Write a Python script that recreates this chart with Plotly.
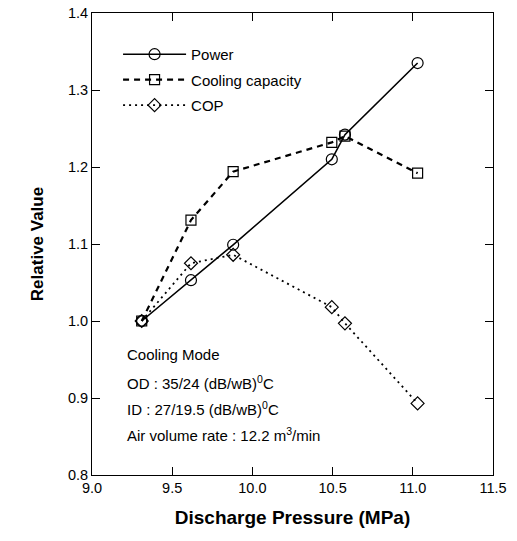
import plotly.graph_objects as go

pressure = [9.31, 9.617, 9.88, 10.495, 10.577, 11.03]
power = [1.0, 1.053, 1.099, 1.21, 1.242, 1.335]
cooling = [1.0, 1.131, 1.194, 1.232, 1.240, 1.192]
cop = [1.0, 1.075, 1.086, 1.018, 0.997, 0.893]

FONT = "Liberation Sans, Arial, sans-serif"

fig = go.Figure()
fig.add_trace(go.Scatter(x=pressure, y=power, name="Power", mode="lines+markers", legendgroup="a",
                         line=dict(color="black", width=1.6),
                         marker=dict(symbol="circle-open", size=11, color="black", line=dict(width=1.2))))
fig.add_trace(go.Scatter(x=pressure, y=cooling, name="Cooling capacity", mode="lines+markers", legendgroup="b",
                         line=dict(color="black", width=2.2, dash="6px,5px"),
                         marker=dict(symbol="square-open", size=10, color="black", line=dict(width=1.2))))
fig.add_trace(go.Scatter(x=pressure, y=cop, name="COP", mode="lines+markers", legendgroup="c",
                         line=dict(color="black", width=1.8, dash="2px,4px"),
                         marker=dict(symbol="diamond-open", size=10, color="black", line=dict(width=1.2))))

notes = [
    "Cooling Mode",
    "OD : 35/24 (dB/wB)<sup>0</sup>C",
    "ID : 27/19.5 (dB/wB)<sup>0</sup>C",
    "Air volume rate : 12.2 m<sup>3</sup>/min",
]
note_y = [0.956, 0.9195, 0.886, 0.853]
for t, yv in zip(notes, note_y):
    fig.add_annotation(x=9.205, y=yv, xref="x", yref="y", text=t, showarrow=False,
                       xanchor="left", yanchor="middle",
                       font=dict(family=FONT, size=15, color="black"))

axis_common = dict(showline=True, linecolor="black", linewidth=1, mirror="ticks",
                   ticks="inside", ticklen=8, tickcolor="black", showgrid=False,
                   zeroline=False, automargin=False,
                   tickfont=dict(family=FONT, size=14.5, color="black"))

fig.update_xaxes(range=[9.0, 11.5], tickvals=[9.0, 9.5, 10.0, 10.5, 11.0, 11.5],
                 ticktext=["9.0", "9.5", "10.0", "10.5", "11.0", "11.5"],
                 title=dict(text="<b>Discharge Pressure (MPa)</b>", standoff=15,
                            font=dict(family=FONT, size=19, color="black")),
                 **axis_common)
fig.update_yaxes(range=[0.8, 1.4], tickvals=[0.8, 0.9, 1.0, 1.1, 1.2, 1.3, 1.4],
                 ticktext=["0.8", "0.9", "1.0", "1.1", "1.2", "1.3", "1.4"],
                 title=dict(text="<b>Relative Value</b>", standoff=19,
                            font=dict(family=FONT, size=17, color="black")),
                 **axis_common)

fig.update_layout(
    width=517, height=541,
    margin=dict(l=92, r=24, t=13, b=66),
    paper_bgcolor="white", plot_bgcolor="white",
    showlegend=True,
    legend=dict(x=0.065, y=0.946, xanchor="left", yanchor="top", bgcolor="rgba(0,0,0,0)",
                font=dict(family=FONT, size=15, color="black"), itemwidth=63,
                tracegroupgap=3),
)

fig.write_html("out.html", config={"displayModeBar": False},
               post_script="document.body.style.margin='0';")
